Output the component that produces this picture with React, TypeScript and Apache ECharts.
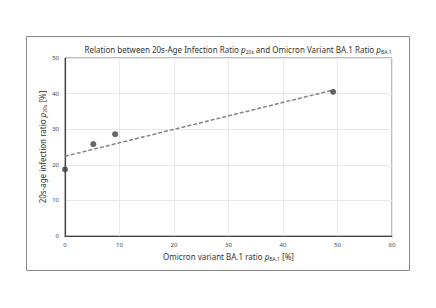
import React, { useEffect, useRef } from "react";
import * as echarts from "echarts";

const xTicks = [0, 10, 20, 30, 40, 50, 60];
const yTicks = [0, 10, 20, 30, 40, 50];
const baRatio = [0, 5.2, 9.2, 49.2];
const age20sRatio = [18.7, 25.8, 28.6, 40.5];
const trendX = [0, 49.2];
const trendY = [22.4, 41.0];

export default function App() {
  const ref = useRef<HTMLDivElement>(null);
  useEffect(() => {
    document.body.style.margin = "0";
    const chart = echarts.init(ref.current!, null, { renderer: "svg" });
    const font = "Noto Sans";
    const sub = { fontSize: 5, fontFamily: font, color: "#333", padding: [4, 0, 0, 0] };
    const ital = { fontSize: 8, fontFamily: font, fontStyle: "italic", color: "#333" };
    chart.setOption({
      animation: false,
      backgroundColor: "#fff",
      title: {
        text: "Relation between 20s-Age Infection Ratio {i|p}{s|20s} and Omicron Variant BA.1 Ratio {i|p}{s|BA.1}",
        left: 233,
        textAlign: "center",
        top: 40,
        textStyle: {
          fontSize: 8,
          fontWeight: "normal",
          fontFamily: font,
          color: "#333",
          rich: { i: ital, s: sub },
        },
      },
      graphic: [
        {
          type: "rect",
          shape: { x: 26.5, y: 36.5, width: 383, height: 234 },
          style: { fill: "none", stroke: "#8a8a8a", lineWidth: 1 },
          silent: true,
        },
      ],
      grid: { left: 65, top: 58, right: 436 - 392, bottom: 308 - 236, show: true, borderColor: "#777", borderWidth: 1 },
      xAxis: {
        type: "value",
        min: xTicks[0],
        max: xTicks[xTicks.length - 1],
        interval: 10,
        name: "Omicron variant BA.1 ratio {i|p}{s|BA.1} [%]",
        nameLocation: "middle",
        nameGap: 16,
        nameMoveOverlap: false,
        nameTextStyle: { fontSize: 8, fontFamily: font, color: "#333", rich: { i: ital, s: sub } },
        axisLine: { lineStyle: { color: "#444", width: 1.2 } },
        axisTick: { show: false },
        axisLabel: { fontSize: 6, fontFamily: font, color: "#444", margin: 6 },
        splitLine: { lineStyle: { color: "#e8e8e8", width: 1 } },
      },
      yAxis: {
        type: "value",
        min: yTicks[0],
        max: yTicks[yTicks.length - 1],
        interval: 10,
        name: "20s-age infection ratio {i|p}{s|20s} [%]",
        nameLocation: "middle",
        nameGap: 18,
        nameMoveOverlap: false,
        nameTextStyle: { fontSize: 8, fontFamily: font, color: "#333", rich: { i: ital, s: sub } },
        axisLine: { show: true, lineStyle: { color: "#444", width: 1.2 } },
        axisTick: { show: false },
        axisLabel: { fontSize: 6, fontFamily: font, color: "#444", margin: 6 },
        splitLine: { lineStyle: { color: "#e8e8e8", width: 1 } },
      },
      series: [
        {
          type: "line",
          data: trendX.map((x, i) => [x, trendY[i]]),
          symbol: "none",
          lineStyle: { color: "#858585", width: 1.5, type: [4, 2] },
          z: 2,
        },
        {
          type: "scatter",
          data: baRatio.map((x, i) => [x, age20sRatio[i]]),
          symbolSize: 6,
          itemStyle: { color: "#404040" },
          z: 3,
        },
      ],
    });
    return () => chart.dispose();
  }, []);
  return <div ref={ref} style={{ width: 436, height: 308 }} />;
}
